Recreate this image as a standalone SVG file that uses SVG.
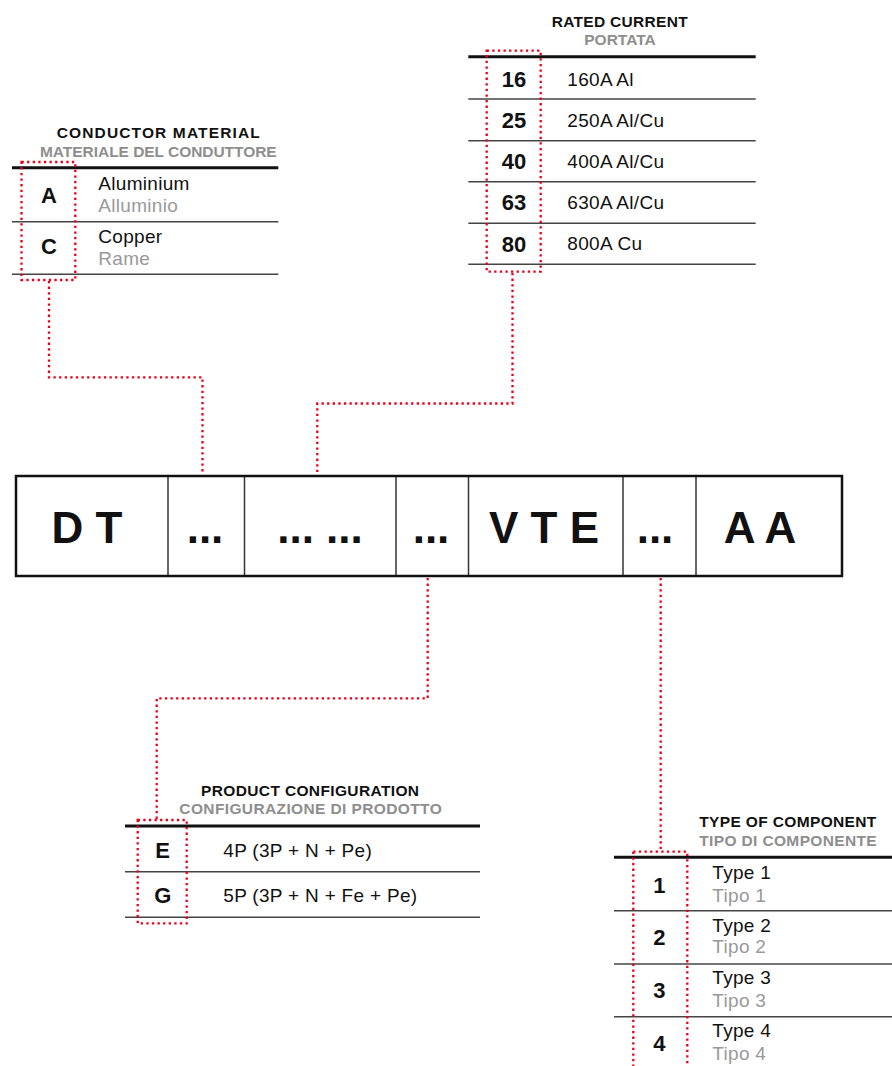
<svg xmlns="http://www.w3.org/2000/svg" width="892" height="1066" viewBox="0 0 892 1066">
<style>
text{font-family:"Liberation Sans",Arial,sans-serif;}
.ttl{font-size:15.5px;font-weight:bold;fill:#111;}
.sub{font-size:15.5px;font-weight:bold;fill:#8e8e8e;}
.code{font-size:22px;font-weight:bold;fill:#111;text-anchor:middle;}
.row{font-size:19px;fill:#111;letter-spacing:0.3px;}
.rowg{font-size:19px;fill:#999;letter-spacing:0.3px;}
.big{font-size:44px;font-weight:bold;fill:#111;text-anchor:middle;}
.thick{stroke:#111;stroke-width:3;fill:none;}
.thin{stroke:#444;stroke-width:1.5;fill:none;}
.dot{stroke:#ec0019;stroke-width:2.3;fill:none;stroke-dasharray:2.3 3.3;}
.cell{stroke:#333;stroke-width:1.5;}
</style>
<rect width="892" height="1066" fill="#fff"/>

<g id="code-box">
<rect x="16" y="476" width="826" height="100" fill="#fff" stroke="#111" stroke-width="2.5"/>
<line class="cell" x1="168" y1="477" x2="168" y2="575"/>
<line class="cell" x1="244.5" y1="477" x2="244.5" y2="575"/>
<line class="cell" x1="396" y1="477" x2="396" y2="575"/>
<line class="cell" x1="468.5" y1="477" x2="468.5" y2="575"/>
<line class="cell" x1="623" y1="477" x2="623" y2="575"/>
<line class="cell" x1="696" y1="477" x2="696" y2="575"/>
<text class="big" x="87" y="543">D T</text>
<text class="big" x="205" y="543">...</text>
<text class="big" x="320" y="543">... ...</text>
<text class="big" x="431" y="543">...</text>
<text class="big" x="544" y="543">V T E</text>
<text class="big" x="655" y="543">...</text>
<text class="big" x="760" y="543">A A</text>
</g>

<g id="conductor-material">
<text class="ttl" x="56.7" y="137.7" textLength="203" lengthAdjust="spacing">CONDUCTOR MATERIAL</text>
<text class="sub" x="40" y="156.7" textLength="236.7" lengthAdjust="spacing">MATERIALE DEL CONDUTTORE</text>
<line class="thick" x1="12" y1="167.7" x2="278.3" y2="167.7"/>
<line class="thin" x1="12" y1="221.7" x2="278.3" y2="221.7"/>
<line class="thin" x1="12" y1="274.3" x2="278.3" y2="274.3"/>
<rect class="dot" x="21.5" y="162" width="53.8" height="118"/>
<text class="code" x="49" y="203.3">A</text>
<text class="code" x="49" y="253.5">C</text>
<text class="row" x="98.3" y="190">Aluminium</text>
<text class="rowg" x="98.3" y="211.7">Alluminio</text>
<text class="row" x="98.3" y="243.3">Copper</text>
<text class="rowg" x="98.3" y="265">Rame</text>
</g>

<g id="rated-current">
<text class="ttl" x="551.7" y="26.7" textLength="136" lengthAdjust="spacing">RATED CURRENT</text>
<text class="sub" x="584.3" y="45" textLength="71.4" lengthAdjust="spacing">PORTATA</text>
<line class="thick" x1="468.3" y1="56.7" x2="755.7" y2="56.7"/>
<line class="thin" x1="468.3" y1="99" x2="755.7" y2="99"/>
<line class="thin" x1="468.3" y1="140.7" x2="755.7" y2="140.7"/>
<line class="thin" x1="468.3" y1="181.7" x2="755.7" y2="181.7"/>
<line class="thin" x1="468.3" y1="223.3" x2="755.7" y2="223.3"/>
<line class="thin" x1="468.3" y1="264.3" x2="755.7" y2="264.3"/>
<rect class="dot" x="486.7" y="50.7" width="54" height="221"/>
<text class="code" x="514" y="86.7">16</text>
<text class="code" x="514" y="127.7">25</text>
<text class="code" x="514" y="169.3">40</text>
<text class="code" x="514" y="210">63</text>
<text class="code" x="514" y="252.3">80</text>
<text class="row" x="567.3" y="85.5">160A Al</text>
<text class="row" x="567.3" y="126.5">250A Al/Cu</text>
<text class="row" x="567.3" y="167.5">400A Al/Cu</text>
<text class="row" x="567.3" y="208.5">630A Al/Cu</text>
<text class="row" x="567.3" y="250">800A Cu</text>
</g>

<g id="product-configuration">
<text class="ttl" x="201" y="796" textLength="218" lengthAdjust="spacing">PRODUCT CONFIGURATION</text>
<text class="sub" x="179.3" y="814.3" textLength="262.4" lengthAdjust="spacing">CONFIGURAZIONE DI PRODOTTO</text>
<line class="thick" x1="125" y1="826" x2="480" y2="826"/>
<line class="thin" x1="125" y1="871.7" x2="480" y2="871.7"/>
<line class="thin" x1="125" y1="917.3" x2="480" y2="917.3"/>
<rect class="dot" x="137.7" y="820" width="49" height="103.3"/>
<text class="code" x="162.7" y="857.7">E</text>
<text class="code" x="162.7" y="902.7">G</text>
<text class="row" x="223.3" y="857">4P (3P + N + Pe)</text>
<text class="row" x="223.3" y="902">5P (3P + N + Fe + Pe)</text>
</g>

<g id="type-of-component">
<text class="ttl" x="699.3" y="826.7" textLength="177" lengthAdjust="spacing">TYPE OF COMPONENT</text>
<text class="sub" x="699.3" y="845.7" textLength="177.4" lengthAdjust="spacing">TIPO DI COMPONENTE</text>
<line class="thick" x1="614" y1="857.3" x2="892" y2="857.3"/>
<line class="thin" x1="614" y1="910.7" x2="892" y2="910.7"/>
<line class="thin" x1="614" y1="964" x2="892" y2="964"/>
<line class="thin" x1="614" y1="1016.7" x2="892" y2="1016.7"/>
<rect class="dot" x="633.3" y="851.7" width="54" height="230"/>
<text class="code" x="659.3" y="893.3">1</text>
<text class="code" x="659.3" y="945">2</text>
<text class="code" x="659.3" y="997.7">3</text>
<text class="code" x="659.3" y="1050.7">4</text>
<text class="row" x="712.3" y="879">Type 1</text>
<text class="rowg" x="712.3" y="901.7">Tipo 1</text>
<text class="row" x="712.3" y="931.7">Type 2</text>
<text class="rowg" x="712.3" y="953.3">Tipo 2</text>
<text class="row" x="712.3" y="984.3">Type 3</text>
<text class="rowg" x="712.3" y="1006.7">Tipo 3</text>
<text class="row" x="712.3" y="1037.3">Type 4</text>
<text class="rowg" x="712.3" y="1060">Tipo 4</text>
</g>

<g id="connectors">
<path class="dot" d="M49,281 V377.3 H202.5 V472"/>
<path class="dot" d="M512.5,273 V403.5 H317.3 V475"/>
<path class="dot" d="M427.7,578 V698.3 H156.7 V819"/>
<path class="dot" d="M660.7,578 V851"/>
</g>
</svg>
